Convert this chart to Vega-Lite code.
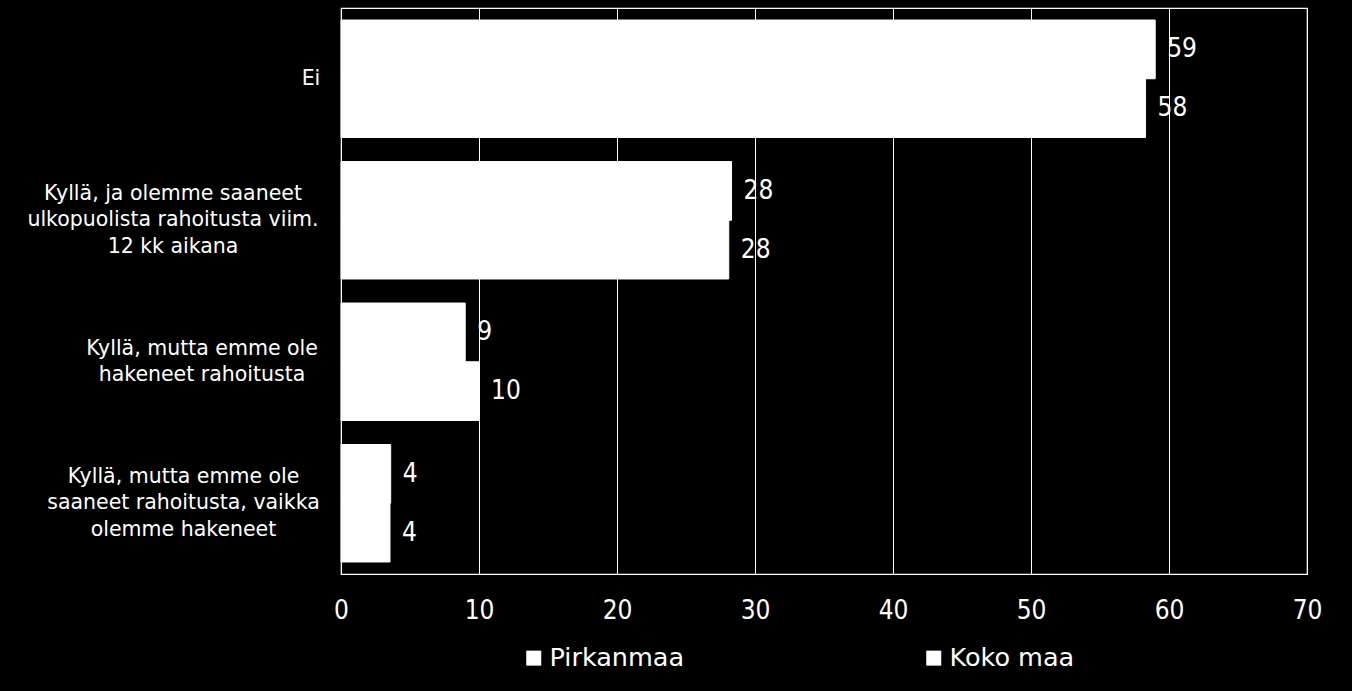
{
  "$schema": "https://vega.github.io/schema/vega-lite/v6.json",
  "autosize": {"type": "none"},
  "width": 966,
  "height": 566,
  "padding": {"left": 341, "top": 8, "right": 45, "bottom": 117},
  "background": "black",
  "config": {
    "view": {"stroke": "white", "strokeWidth": 1.2},
    "font": "DejaVu Sans Condensed"
  },
  "data": {
    "values": [
      {"Category": "Ei", "Series": "Pirkanmaa", "Value": 59},
      {"Category": "Ei", "Series": "Koko maa", "Value": 58.3},
      {"Category": "Kyllä, ja olemme saaneet|ulkopuolista rahoitusta viim.|12 kk aikana", "Series": "Pirkanmaa", "Value": 28.3},
      {"Category": "Kyllä, ja olemme saaneet|ulkopuolista rahoitusta viim.|12 kk aikana", "Series": "Koko maa", "Value": 28.1},
      {"Category": "Kyllä, mutta emme ole|hakeneet rahoitusta", "Series": "Pirkanmaa", "Value": 9.0},
      {"Category": "Kyllä, mutta emme ole|hakeneet rahoitusta", "Series": "Koko maa", "Value": 10.0},
      {"Category": "Kyllä, mutta emme ole|saaneet rahoitusta, vaikka|olemme hakeneet", "Series": "Pirkanmaa", "Value": 3.6},
      {"Category": "Kyllä, mutta emme ole|saaneet rahoitusta, vaikka|olemme hakeneet", "Series": "Koko maa", "Value": 3.55}
    ]
  },
  "encoding": {
    "y": {
      "field": "Category",
      "type": "nominal",
      "sort": null,
      "scale": {"paddingInner": 0.17, "paddingOuter": 0.085},
      "axis": {
        "title": null,
        "ticks": false,
        "domain": false,
        "labelExpr": "split(datum.label, '|')",
        "labelColor": "white",
        "labelFont": "DejaVu Sans",
        "labelFontSize": 20.5,
        "labelLineHeight": 26.5,
        "labelAlign": "center",
        "labelBaseline": "middle",
        "labelLimit": 400,
        "labelPadding": {
          "condition": [
            {"test": "datum.value == 'Ei'", "value": 30.5},
            {"test": "indexof(datum.value, '12 kk') >= 0", "value": 168.5},
            {"test": "indexof(datum.value, 'vaikka') >= 0", "value": 158},
            {"test": "indexof(datum.value, 'hakeneet rahoitusta') >= 0", "value": 139.5}
          ],
          "value": 30
        },
        "labelOffset": {
          "condition": [
            {"test": "indexof(datum.value, '12 kk') >= 0", "value": -26.5},
            {"test": "indexof(datum.value, 'vaikka') >= 0", "value": -26.5},
            {"test": "indexof(datum.value, 'hakeneet rahoitusta') >= 0", "value": -13}
          ],
          "value": 0
        }
      }
    },
    "yOffset": {
      "field": "Series",
      "type": "nominal",
      "sort": ["Pirkanmaa", "Koko maa"],
      "scale": {"paddingInner": 0, "paddingOuter": 0}
    },
    "x": {
      "field": "Value",
      "type": "quantitative",
      "scale": {"domain": [0, 70], "nice": false},
      "axis": {
        "title": null,
        "values": [0, 10, 20, 30, 40, 50, 60, 70],
        "grid": true,
        "gridColor": "white",
        "gridWidth": 1,
        "gridOpacity": 1,
        "ticks": false,
        "domain": false,
        "labelFlush": false,
        "labelColor": "white",
        "labelFontSize": 26,
        "labelPadding": 23
      }
    }
  },
  "layer": [
    {
      "mark": {"type": "bar", "stroke": "white", "strokeWidth": 1},
      "encoding": {
        "color": {
          "field": "Series",
          "type": "nominal",
          "sort": ["Pirkanmaa", "Koko maa"],
          "scale": {"range": ["white", "white"]},
          "legend": {
            "title": null,
            "orient": "none",
            "direction": "horizontal",
            "legendX": 180,
            "legendY": 637,
            "symbolType": "square",
            "symbolSize": 225,
            "symbolStrokeWidth": 0,
            "symbolFillColor": "white",
            "labelColor": "white",
            "labelFont": "DejaVu Sans",
            "labelFontSize": 25.5,
            "labelOffset": 3,
            "columnPadding": 236,
            "labelLimit": 300
          }
        }
      }
    },
    {
      "mark": {"type": "text", "align": "left", "baseline": "middle", "dx": 12, "fontSize": 26, "color": "white"},
      "encoding": {
        "text": {"field": "Value", "type": "quantitative", "format": ".0f"}
      }
    }
  ]
}
